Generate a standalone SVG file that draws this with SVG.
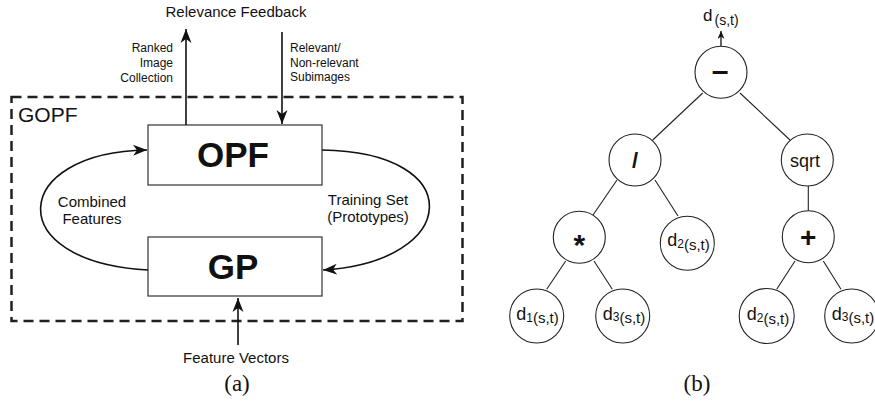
<svg xmlns="http://www.w3.org/2000/svg" width="875" height="403" viewBox="0 0 875 403">
<style>
.sans{font-family:"Liberation Sans",Arial,sans-serif;fill:#111}
.serif{font-family:"Liberation Serif","Times New Roman",serif;fill:#111}
.box{fill:#fff;stroke:#333;stroke-width:1.2}
.node{fill:#fff;stroke:#222;stroke-width:1.1}
.edge{fill:none;stroke:#222;stroke-width:1.1}
.arrow{fill:none;stroke:#111;stroke-width:1.6}
.lbl{font-size:12px}
.mid{font-size:15px}
.big{font-size:35px;font-weight:bold}
.nd{font-size:18px}
.sub1{font-size:12px}
.sub2{font-size:15px}
</style>
<defs>
<marker id="ah" markerUnits="userSpaceOnUse" markerWidth="16" markerHeight="12" refX="14" refY="6" orient="auto">
<path d="M0,0.5 L14,6 L0,11.5 L4,6 Z" fill="#111"/>
</marker>
<marker id="sa" markerUnits="userSpaceOnUse" markerWidth="10" markerHeight="8" refX="8" refY="3.5" orient="auto">
<path d="M0,0 L8,3.5 L0,7 L2.5,3.5 Z" fill="#111"/>
</marker>
</defs>
<rect width="875" height="403" fill="#fff"/>

<!-- Panel (a) -->
<g id="gopf">
<rect x="11.5" y="97" width="451" height="224" fill="none" stroke="#231f20" stroke-width="2.5" stroke-dasharray="10 6"/>
<text class="sans" x="18" y="122" font-size="21">GOPF</text>
</g>
<g id="opf">
<rect class="box" x="148" y="125" width="174" height="60"/>
<text class="sans big" x="233" y="167" text-anchor="middle">OPF</text>
</g>
<g id="gp">
<rect class="box" x="148" y="237" width="174" height="59"/>
<text class="sans big" x="233" y="279" text-anchor="middle">GP</text>
</g>
<g id="relevance-feedback">
<text class="sans mid" x="236" y="17" text-anchor="middle">Relevance Feedback</text>
</g>
<g id="feature-vectors">
<text class="sans mid" x="236" y="363" text-anchor="middle">Feature Vectors</text>
</g>
<g id="connectors-a">
<line class="arrow" x1="186" y1="125" x2="186" y2="29" marker-end="url(#ah)"/>
<line class="arrow" x1="282" y1="32" x2="282" y2="124" marker-end="url(#ah)"/>
<line class="arrow" x1="238" y1="345" x2="238" y2="298" marker-end="url(#ah)"/>
<path class="arrow" d="M148,270 C0,262 10,152 147,150" marker-end="url(#ah)"/>
<path class="arrow" d="M322,150 C470,152 460,262 323,270" marker-end="url(#ah)"/>
<text class="sans lbl" text-anchor="end"><tspan x="173" y="52">Ranked</tspan><tspan x="173" y="67">Image</tspan><tspan x="173" y="82">Collection</tspan></text>
<text class="sans lbl"><tspan x="290" y="52">Relevant/</tspan><tspan x="290" y="67">Non-relevant</tspan><tspan x="290" y="81">Subimages</tspan></text>
<text class="sans mid" text-anchor="middle"><tspan x="92" y="207">Combined</tspan><tspan x="92" y="224">Features</tspan></text>
<text class="sans mid" text-anchor="middle"><tspan x="368" y="205">Training Set</tspan><tspan x="368" y="222">(Prototypes)</tspan></text>
</g>
<text class="serif" x="237" y="391" font-size="23" text-anchor="middle">(a)</text>

<!-- Panel (b) -->
<g id="connectors-b">
<line class="edge" x1="702.7" y1="93" x2="652.7" y2="140"/>
<line class="edge" x1="740" y1="93" x2="790" y2="140"/>
<line class="edge" x1="617" y1="180" x2="593" y2="215"/>
<line class="edge" x1="655" y1="180" x2="678" y2="216"/>
<line class="edge" x1="808.3" y1="186" x2="808.3" y2="211"/>
<line class="edge" x1="565.7" y1="261" x2="546.7" y2="289.3"/>
<line class="edge" x1="594" y1="261" x2="612.3" y2="289.3"/>
<line class="edge" x1="795" y1="261" x2="776.7" y2="289.3"/>
<line class="edge" x1="823.3" y1="261" x2="841" y2="289.3"/>
<line x1="721" y1="46" x2="721" y2="31" stroke="#111" stroke-width="1.3" marker-end="url(#sa)"/>
</g>
<g id="output">
<text class="sans" x="703" y="21"><tspan font-size="17">d</tspan><tspan font-size="14" dx="2" dy="4">(s,t)</tspan></text>
</g>
<g id="n-minus">
<circle class="node" cx="721" cy="72.3" r="26"/>
<text class="sans" x="720" y="81" font-size="30" font-weight="bold" text-anchor="middle">–</text>
</g>
<g id="n-div">
<circle class="node" cx="635" cy="160" r="26"/>
<text class="sans" x="635" y="168" font-size="22" font-weight="bold" text-anchor="middle">/</text>
</g>
<g id="n-sqrt">
<circle class="node" cx="807.3" cy="160" r="26"/>
<text class="sans" x="805" y="166.5" font-size="18" text-anchor="middle">sqrt</text>
</g>
<g id="n-mul">
<circle class="node" cx="579.3" cy="237.3" r="26"/>
<text class="sans" x="579.3" y="255" font-size="30" font-weight="bold" text-anchor="middle">*</text>
</g>
<g id="n-d2a">
<circle class="node" cx="687.3" cy="243.3" r="27"/>
<text class="sans" x="688.5" y="246" text-anchor="middle"><tspan class="nd">d</tspan><tspan class="sub1" dy="2">2</tspan><tspan class="sub2" dy="2">(s,t)</tspan></text>
</g>
<g id="n-plus">
<circle class="node" cx="808.3" cy="236.7" r="26"/>
<text class="sans" x="808.3" y="247" font-size="28" font-weight="bold" text-anchor="middle">+</text>
</g>
<g id="n-d1">
<circle class="node" cx="536.7" cy="316" r="27"/>
<text class="sans" x="537.5" y="319.5" text-anchor="middle"><tspan class="nd">d</tspan><tspan class="sub1" dy="2">1</tspan><tspan class="sub2" dy="1">(s,t)</tspan></text>
</g>
<g id="n-d3a">
<circle class="node" cx="622.7" cy="316" r="27"/>
<text class="sans" x="624" y="319.5" text-anchor="middle"><tspan class="nd">d</tspan><tspan class="sub1" dy="1">3</tspan><tspan class="sub2" dy="2">(s,t)</tspan></text>
</g>
<g id="n-d2b">
<circle class="node" cx="766.7" cy="316" r="27.5"/>
<text class="sans" x="768" y="319.5" text-anchor="middle"><tspan class="nd">d</tspan><tspan class="sub1" dy="2">2</tspan><tspan class="sub2" dy="2">(s,t)</tspan></text>
</g>
<g id="n-d3b">
<circle class="node" cx="851.7" cy="316" r="27"/>
<text class="sans" x="853" y="319.5" text-anchor="middle"><tspan class="nd">d</tspan><tspan class="sub1" dy="1">3</tspan><tspan class="sub2" dy="2">(s,t)</tspan></text>
</g>
<text class="serif" x="697" y="391" font-size="23" text-anchor="middle">(b)</text>
</svg>
